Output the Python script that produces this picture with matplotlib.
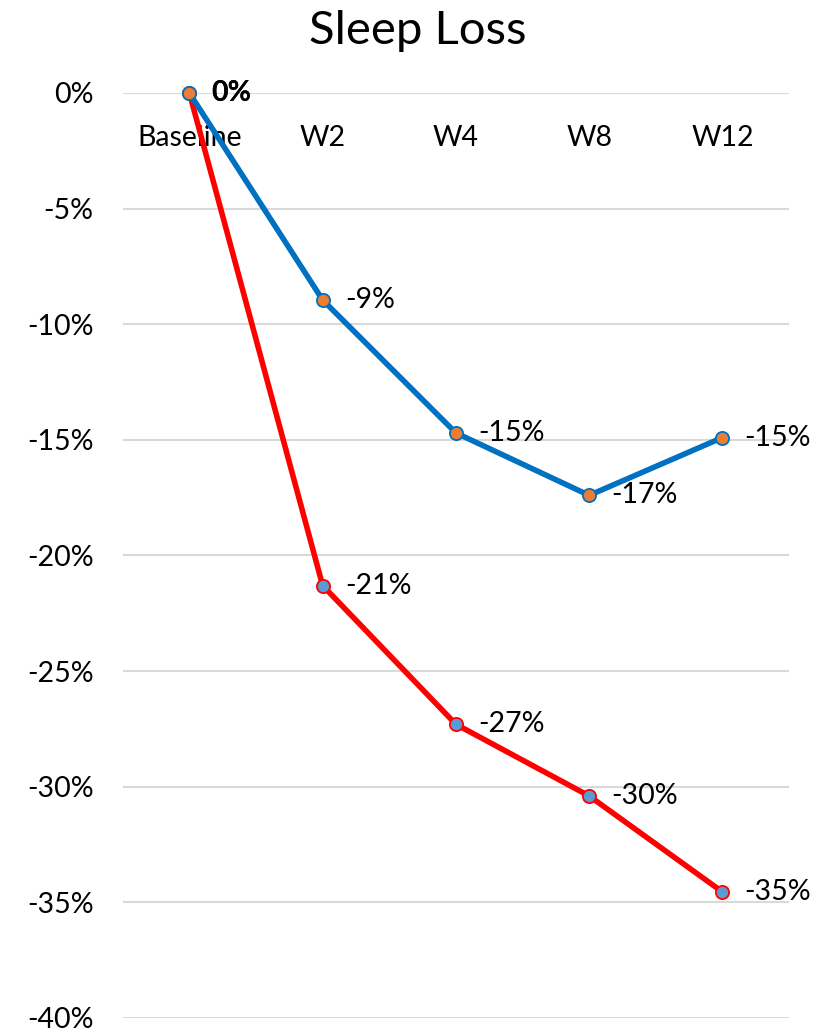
#!/usr/bin/env python3
"""Sleep Loss line chart: percent change from baseline for two groups."""
import matplotlib
matplotlib.use("Agg")
import matplotlib.pyplot as plt

categories = ["Baseline", "W2", "W4", "W8", "W12"]
blue_values = [0.0, -8.95, -14.7, -17.4, -14.9]
red_values = [0.0, -21.3, -27.3, -30.4, -34.55]
y_ticks = [0, -5, -10, -15, -20, -25, -30, -35, -40]

plt.rcParams["font.family"] = ["Lato", "DejaVu Sans"]

fig = plt.figure(figsize=(8.35, 10.32), dpi=100)
ax = fig.add_axes([0.147, 0.0136, 0.798, 0.8963])

x = list(range(len(categories)))

# red first so the blue series sits on top at the shared baseline point
ax.plot(x, red_values, color="#FF0000", lw=4.0, marker="o", ms=9.5,
        mfc="#5B9BD5", mec="#FF0000", mew=1.3, clip_on=False, zorder=3)
ax.plot(x, blue_values, color="#0070C0", lw=4.0, marker="o", ms=9.5,
        mfc="#ED7D31", mec="#0070C0", mew=1.3, clip_on=False, zorder=4)

for vals in (red_values, blue_values):
    for xi, v in zip(x, vals):
        label = f"{v:.0f}%".replace("-0%", "0%")
        # the two overlapping baseline labels read as bold in the original
        weight = "bold" if v == 0 else "normal"
        ax.annotate(label, (xi, v), xytext=(16, 0), textcoords="offset points",
                    va="center", ha="left", fontsize=20.5, fontweight=weight,
                    color="black", zorder=5)

ax.set_xlim(-0.5, len(categories) - 0.5)
ax.set_ylim(-40, 0)
ax.set_yticks(y_ticks)
ax.set_yticklabels([f"{t}%" for t in y_ticks])
ax.set_xticks(x)
ax.set_xticklabels(categories)
ax.tick_params(axis="x", bottom=False, labelbottom=False, top=False,
               labeltop=True, pad=-45, labelsize=20.5)
ax.tick_params(axis="y", length=0, pad=21, labelsize=20.5)
ax.grid(axis="y", color="#D9D9D9", lw=1.5)
ax.set_axisbelow(True)
for s in ax.spines.values():
    s.set_visible(False)

fig.suptitle("Sleep Loss", fontsize=34, y=0.99, va="top")

fig.savefig("out.png", dpi=100)
plt.close(fig)
